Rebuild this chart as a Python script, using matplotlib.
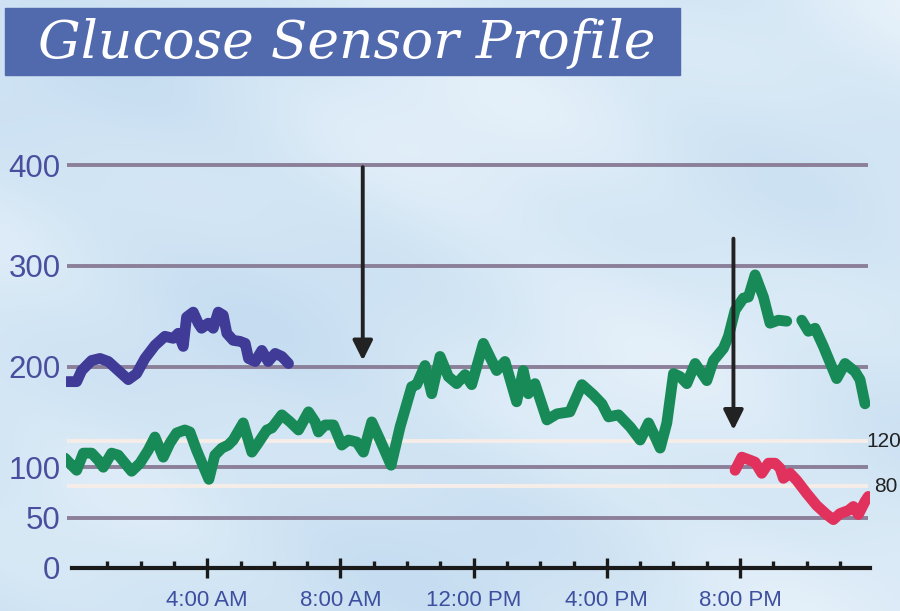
import numpy as np
import matplotlib
matplotlib.use("Agg")
import matplotlib.pyplot as plt
from matplotlib.patches import Rectangle

# Sensor readings (hour of day, mg/dL)
blue_hours = [-0.22, 0.08, 0.23, 0.53, 0.78, 1.03, 1.33, 1.63, 1.88, 2.13, 2.43, 2.73,
              2.98, 3.13, 3.28, 3.38, 3.58, 3.73, 3.83, 4.03, 4.18, 4.33, 4.48, 4.59,
              4.78, 4.98, 5.14, 5.24, 5.44, 5.64, 5.83, 6.04, 6.24, 6.44]
blue_vals = [185, 185, 196, 206, 208, 205, 196, 187, 193, 208, 221, 230,
             228, 233, 220, 249, 254, 243, 238, 243, 238, 254, 251, 233,
             226, 225, 223, 208, 205, 216, 205, 213, 210, 203]

green_hours = [-0.27, -0.07, 0.08, 0.28, 0.53, 0.73, 0.88, 1.13, 1.33, 1.53, 1.73, 1.98,
               2.23, 2.43, 2.68, 2.88, 3.08, 3.33, 3.48, 3.68, 4.05, 4.23, 4.44, 4.63,
               4.78, 5.08, 5.34, 5.53, 5.79, 5.94, 6.24, 6.49, 6.74, 7.04, 7.24, 7.34,
               7.54, 7.79, 8.04, 8.24, 8.49, 8.69, 8.94, 9.19, 9.52, 9.79, 10.14, 10.29,
               10.54, 10.74, 10.99, 11.24, 11.49, 11.74, 11.94, 12.29, 12.54, 12.69, 12.94, 13.29,
               13.49, 13.64, 13.84, 14.20, 14.50, 14.89, 15.25, 15.59, 15.85, 16.05, 16.35, 16.70,
               17.00, 17.25, 17.45, 17.60, 17.80, 18.00, 18.20, 18.40, 18.65, 19.00, 19.20, 19.50,
               19.65, 19.85, 20.10, 20.25, 20.45, 20.70, 20.90, 21.15, 21.40, 21.62,
               21.85, 22.05, 22.25, 22.50, 22.75, 22.90, 23.15, 23.45, 23.60, 23.75]
green_vals = [109, 102, 97, 114, 114, 107, 100, 114, 112, 104, 96, 104,
              117, 130, 110, 124, 134, 137, 135, 117, 88, 112, 119, 122,
              127, 144, 115, 124, 137, 139, 152, 145, 137, 155, 145, 135,
              142, 142, 122, 127, 125, 115, 145, 127, 102, 140, 180, 182,
              201, 173, 210, 190, 183, 192, 182, 223, 206, 196, 205, 165,
              196, 173, 183, 147, 153, 155, 182, 172, 163, 150, 152, 140,
              127, 144, 130, 119, 144, 193, 190, 183, 203, 186, 206, 218,
              230, 256, 268, 269, 291, 269, 243, 246, 245, np.nan,
              246, 235, 238, 220, 200, 188, 203, 195, 187, 163]

red_hours = [19.85, 20.05, 20.30, 20.45, 20.65, 20.85, 21.05, 21.20, 21.30, 21.50, 21.70,
             22.00, 22.30, 22.60, 22.80, 23.00, 23.25, 23.40, 23.55, 23.75, 23.85]
red_vals = [97, 110, 107, 105, 94, 104, 104, 99, 89, 94, 87,
            74, 62, 53, 48, 54, 57, 61, 53, 66, 71]

grid_levels = [400, 300, 200, 100, 50]
target_levels = [126, 81]
target_labels = ["120", "80"]
y_ticks = [0, 50, 100, 200, 300, 400]
x_major = [4, 8, 12, 16, 20]
x_labels = ["4:00 AM", "8:00 AM", "12:00 PM", "4:00 PM", "8:00 PM"]
arrow_hours = [8.67, 19.8]
arrow_tops = [398, 327]
arrow_tips = [206, 137]

W, H = 900, 611
fig = plt.figure(figsize=(9, 6.11), dpi=100)
fig.patch.set_facecolor("#d2e5f4")

# soft watercolour-like backdrop
bg = fig.add_axes([0, 0, 1, 1], zorder=-10)
gx, gy = np.meshgrid(np.linspace(0, 1, 300), np.linspace(0, 1, 200))
tex = (np.sin(gx * 9 + gy * 4) + np.sin(gy * 13 - gx * 5) * 0.7
       + np.sin((gx + gy) * 23) * 0.3 + gx * 1.2 + gy * 0.8)
bg.imshow(tex, cmap=matplotlib.colors.LinearSegmentedColormap.from_list(
    "paper", ["#c6ddf1", "#d5e7f5", "#e6f1fa"]), aspect="auto",
    extent=[0, 1, 0, 1], origin="lower")
bg.axis("off")

# title banner
fig.patches.append(Rectangle((5 / W, 1 - 75 / H), 675 / W, 67 / H,
                             transform=fig.transFigure, color="#5169ad", zorder=1))
fig.text(38 / W, 1 - 58 / H, "Glucose Sensor Profile", family="DejaVu Serif",
         style="italic", fontsize=38.5, color="white", zorder=2)

ax = fig.add_axes([66 / W, 35 / H, 804 / W, 426 / H])
ax.set_facecolor("none")
ax.set_xlim(-0.24, 23.9)
ax.set_ylim(-8, 415)

for lv in grid_levels:
    ax.hlines(lv, -0.2, 23.85, color="#8b7f99", lw=2.8, zorder=1)
for lv in target_levels:
    ax.hlines(lv, -0.2, 23.85, color="#f6ede8", lw=2.8, zorder=1)
for lv, lab in zip(target_levels, target_labels):
    ax.text(23.78 + (0 if lab == "120" else 0.25), lv, lab, fontsize=15, color="#222222",
            family="Liberation Sans", va="center", ha="left", clip_on=False)

line_kw = dict(lw=7.8, solid_capstyle="round", solid_joinstyle="round", zorder=3)
ax.plot(blue_hours, blue_vals, color="#3f3b96", **line_kw)
ax.plot(green_hours, green_vals, color="#188a57", **line_kw)
ax.plot(red_hours, red_vals, color="#e0325c", **line_kw)

for xh, top, tip in zip(arrow_hours, arrow_tops, arrow_tips):
    ax.annotate("", xy=(xh, tip), xytext=(xh, top), zorder=4,
                arrowprops=dict(arrowstyle="-|>,head_length=0.6,head_width=0.3",
                                mutation_scale=20, lw=2.8, color="#222222",
                                shrinkA=0, shrinkB=0))

for s in ["top", "right", "left"]:
    ax.spines[s].set_visible(False)
ax.spines["bottom"].set_position(("data", 0))
ax.spines["bottom"].set_bounds(-0.07, 23.9)
ax.spines["bottom"].set_linewidth(3)
ax.spines["bottom"].set_color("#1a1a1a")

ax.set_yticks(y_ticks)
ax.set_yticklabels([str(v) for v in y_ticks])
ax.tick_params(axis="y", length=0, pad=4, labelsize=22.5, labelcolor="#4a4e9e")
for lab in ax.get_yticklabels():
    lab.set_family("Liberation Sans")

ax.set_xticks(x_major)
ax.set_xticklabels(x_labels)
ax.set_xticks([h for h in range(1, 24) if h not in x_major], minor=True)
ax.tick_params(axis="x", which="major", direction="inout", length=14, width=2.4,
               color="#1a1a1a", pad=9, labelsize=16, labelcolor="#3d4f9e")
ax.tick_params(axis="x", which="minor", direction="in", length=5, width=2.4,
               color="#1a1a1a")
for lab in ax.get_xticklabels():
    lab.set_family("Liberation Sans")

fig.savefig("out.png", dpi=100)
